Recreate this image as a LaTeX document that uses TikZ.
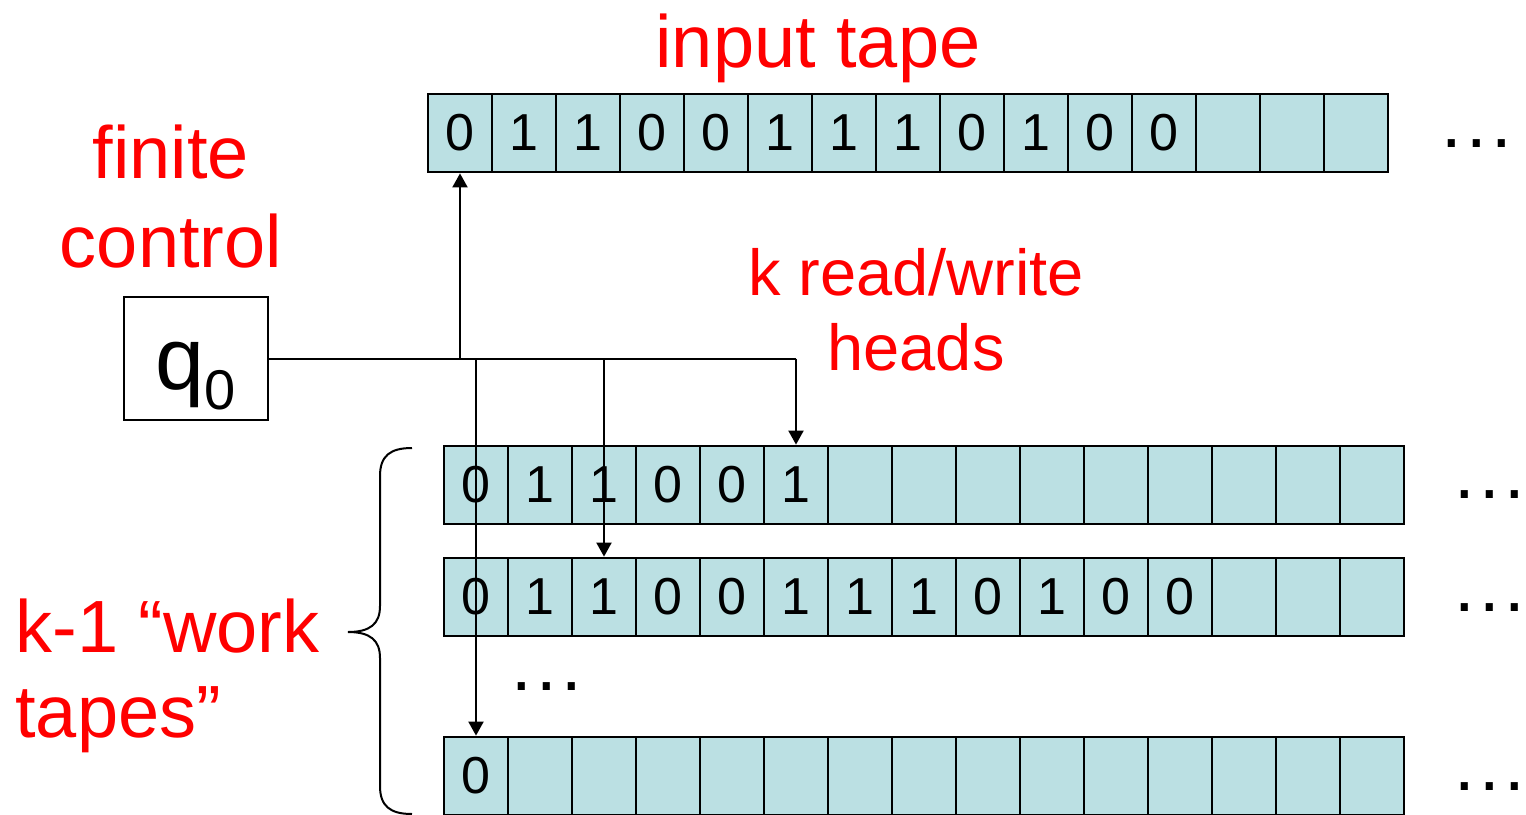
\documentclass[tikz,border=0pt]{standalone}
\usepackage{fontspec}
\setmainfont{Liberation Sans}
\usetikzlibrary{arrows.meta}
\definecolor{tapefill}{RGB}{187,224,227}
\definecolor{labelred}{RGB}{255,0,0}
\newcommand{\tapedots}{.\kern2.25pt.\kern2.25pt.}
\begin{document}
\begin{tikzpicture}[x=0.5pt,y=-0.5pt,
  cell/.style={draw=black, fill=tapefill, line width=1.4pt, minimum width=32pt, minimum height=39pt, inner sep=0pt, font=\fontsize{26}{26}\selectfont},
  lbl/.style={text=labelred, anchor=base, inner sep=0pt, font=\fontsize{37}{44}\selectfont},
  lbls/.style={lbl, font=\fontsize{32.5}{39}\selectfont},
  lbll/.style={lbl, anchor=base west},
  dots/.style={anchor=base, inner sep=0pt, font=\fontsize{37}{44}\selectfont},
  conn/.style={line width=1pt, -{Triangle[length=7pt,width=7.5pt]}},
  plain/.style={line width=1pt}
]
\useasboundingbox (0,0) rectangle (1526,814);

% labels
\node[lbl] (tInput) at (818,67) {input tape};
\node[lbl] (tFinite) at (171,178) {finite};
\node[lbl] (tControl) at (171,267) {control};
\node[lbls] (tHeads1) at (916,295) {k read/write};
\node[lbls] (tHeads2) at (916,370) {heads};
\node[lbll] (tWork1) at (15,652) {k-1 “work};
\node[lbll] (tWork2) at (15,737) {tapes”};

% finite control
\node[draw=black, line width=1pt, minimum width=72pt, minimum height=61.5pt, inner sep=0pt,
      text height=30.5pt, text depth=0pt, font=\fontsize{44}{44}\selectfont]
  (q) at (196,358.5) {q\raisebox{-10pt}{\fontsize{28}{28}\selectfont 0}};

% input tape
\foreach \d [count=\i from 0] in {0,1,1,0,0,1,1,1,0,1,0,0,{},{},{}}
  \node[cell] (in\i) at (460+64*\i,133) {\d};
% work tape 1
\foreach \d [count=\i from 0] in {0,1,1,0,0,1,{},{},{},{},{},{},{},{},{}}
  \node[cell] (a\i) at (476+64*\i,485) {\d};
% work tape 2
\foreach \d [count=\i from 0] in {0,1,1,0,0,1,1,1,0,1,0,0,{},{},{}}
  \node[cell] (b\i) at (476+64*\i,597) {\d};
% work tape k-1
\foreach \d [count=\i from 0] in {0,{},{},{},{},{},{},{},{},{},{},{},{},{},{}}
  \node[cell] (c\i) at (476+64*\i,776) {\d};

% continuation dots
\node[dots] (dIn) at (1477,147) {\tapedots};
\node[dots] (dA) at (1490,498) {\tapedots};
\node[dots] (dB) at (1490,611) {\tapedots};
\node[dots] (dMid) at (547,690) {\tapedots};
\node[dots] (dC) at (1490,790) {\tapedots};

% heads
\draw[plain] (q.east) -- (a5.north |- q.east);
\draw[conn] (a5.north |- q.east) -- (a5.north);
\draw[conn] (in0.south |- q.east) -- (in0.south);
\draw[conn] (c0.north |- q.east) -- (c0.north);
\draw[conn] (b2.north |- q.east) -- (b2.north);

% brace
\draw[line width=1pt] (412,448) .. controls (390,448) and (380,456) .. (380,476)
  -- (380,606) .. controls (380,624) and (370,632) .. (348,632)
  .. controls (370,632) and (380,640) .. (380,658)
  -- (380,786) .. controls (380,806) and (390,814) .. (412,814);
\end{tikzpicture}
\end{document}
